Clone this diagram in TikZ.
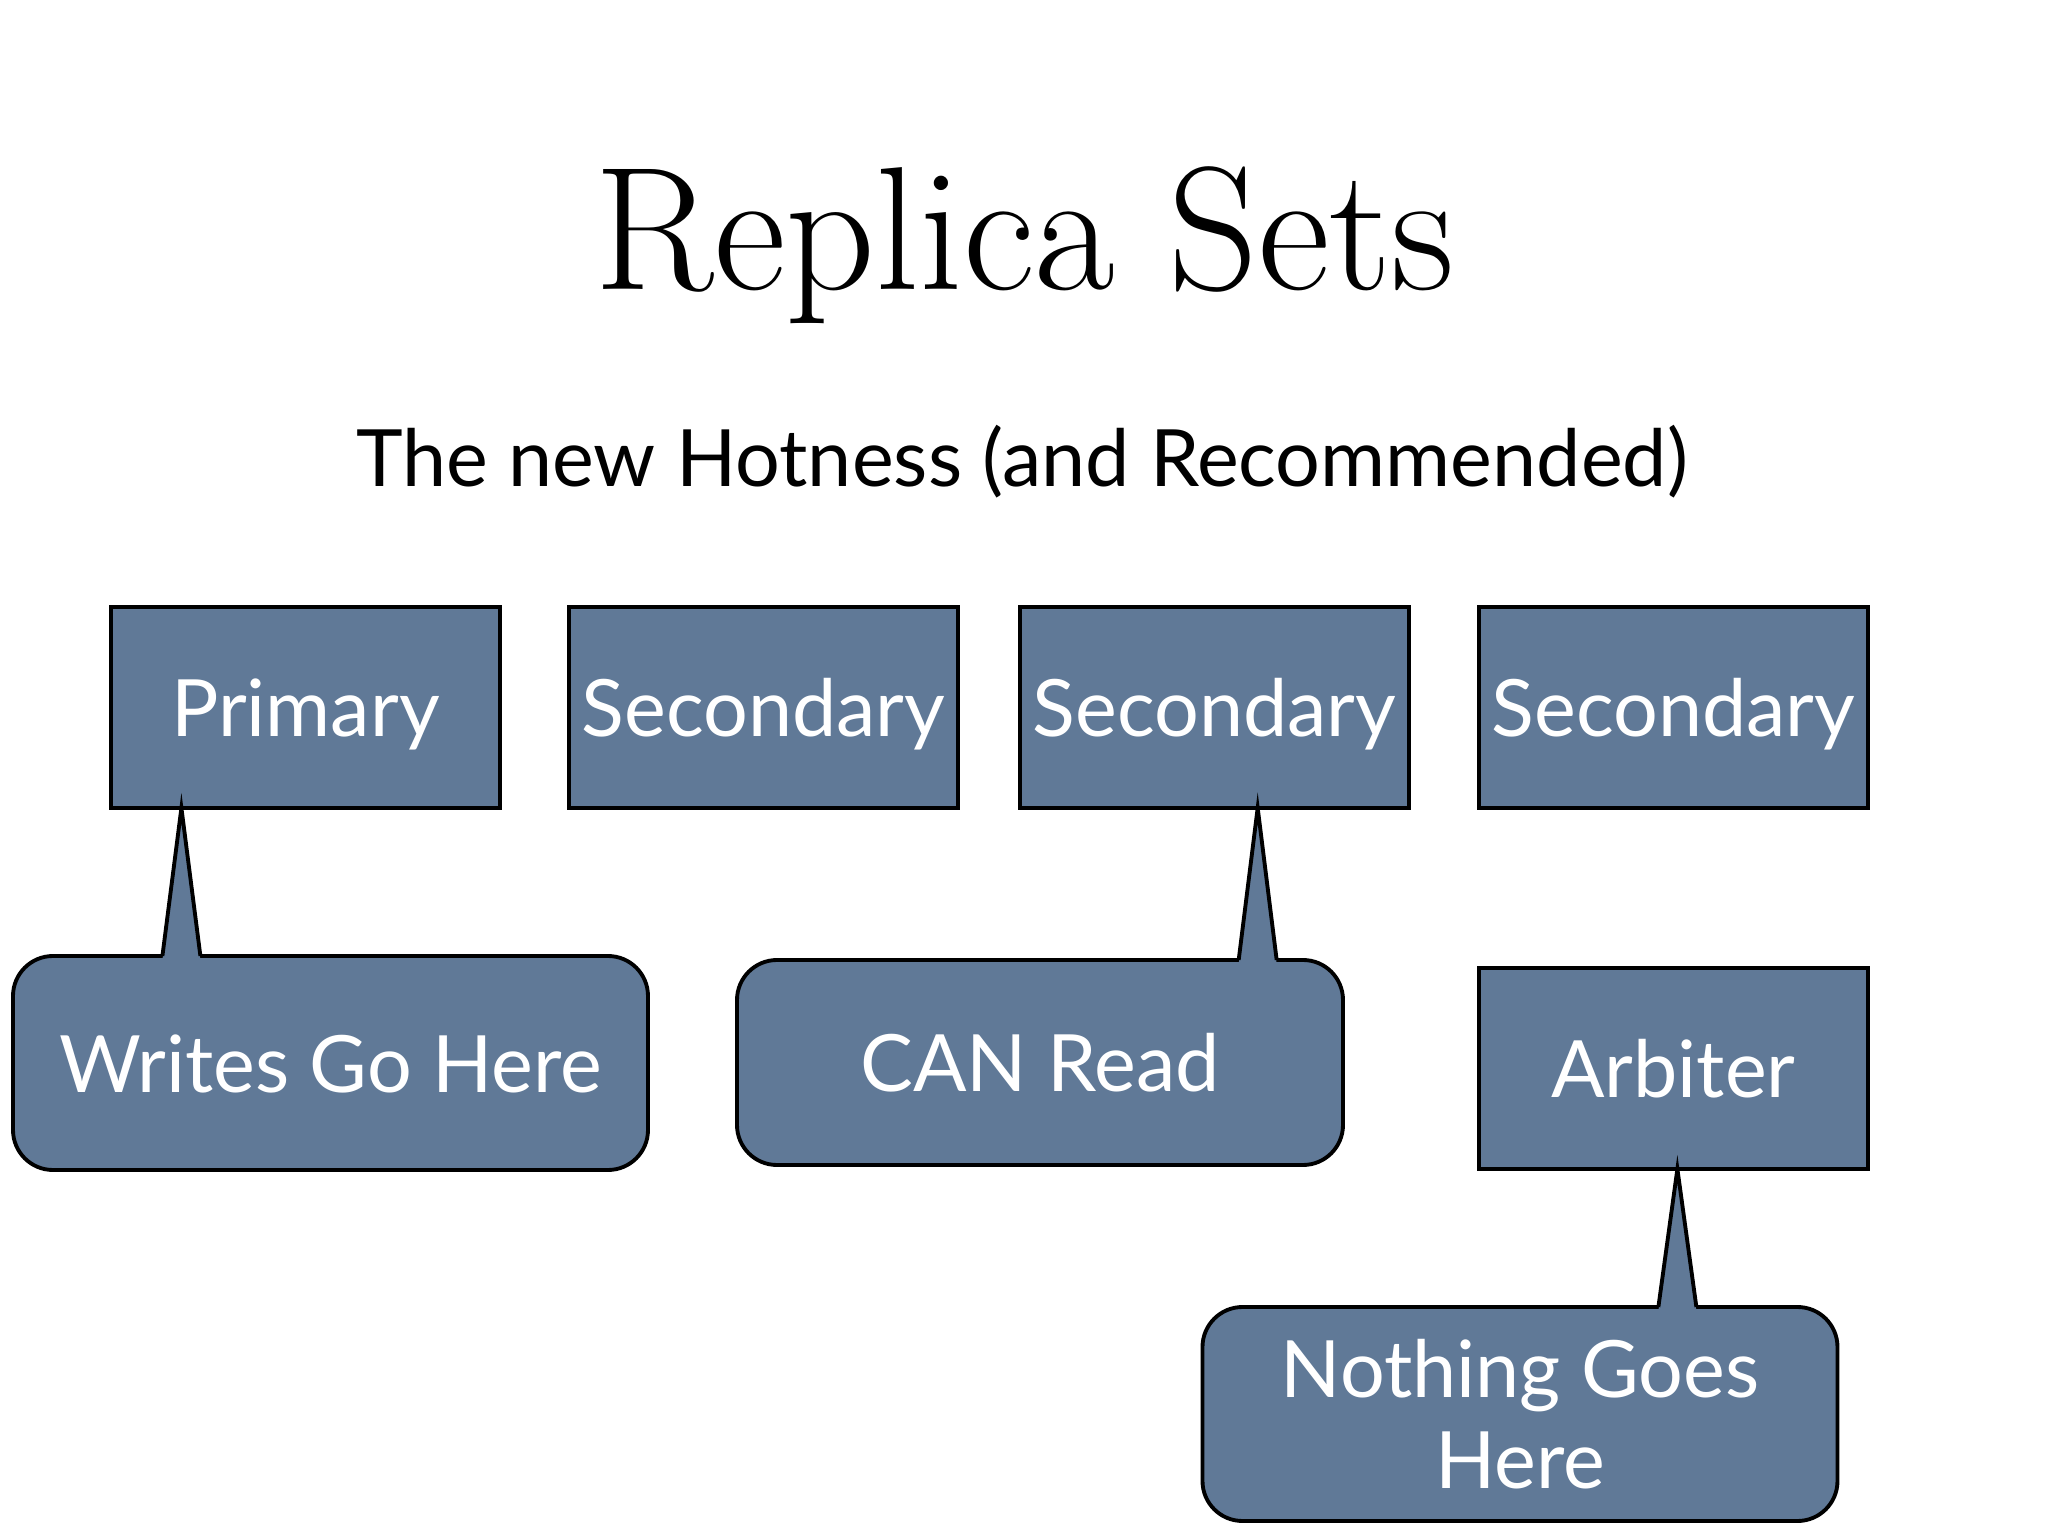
\documentclass[tikz,border=0pt]{standalone}
\usepackage{fontspec}
\newfontfamily\gill{Lato}
\usetikzlibrary{positioning,calc}
\definecolor{ardesia}{RGB}{96,121,151}

\tikzset{
  nodo/.style={draw,fill=ardesia,line width=1.1pt,outer sep=0pt,inner xsep=0pt,
    minimum width=3.89cm,minimum height=2.01cm,text=white,
    font=\gill\fontsize{22.5}{26}\selectfont,text height=0.58cm,text depth=0pt},
  nuvola/.style={nodo,rounded corners=0.4cm,minimum width=6.35cm,minimum height=2.14cm}
}

\begin{document}
\begin{tikzpicture}
  \useasboundingbox (0,0) rectangle (20.48,-15.36);
  % Titoli
  \node[anchor=base,font=\fontsize{50}{60}\selectfont] (titolo) at (10.25,-2.90) {Replica Sets};
  \node[anchor=base,font=\gill\fontsize{22.5}{26}\selectfont] (sottotitolo) at (10.22,-4.86) {The new Hotness (and Recommended)};

  % Nodi
  \node[nodo] (prim) at (3.055,-7.075) {Primary};
  \node[nodo,right=0.69cm of prim] (sec1) {Secondary};
  \node[nodo,right=0.62cm of sec1] (sec2) {Secondary};
  \node[nodo,right=0.70cm of sec2] (sec3) {Secondary};
  \node[nodo,below=1.60cm of sec3] (arb) {Arbiter};

  % Nuvolette
  \node[nuvola,below=1.48cm of prim,xshift=0.25cm] (scritture) {Writes Go Here};
  \node[nuvola,below=1.52cm of sec2,xshift=-1.745cm,minimum width=6.06cm,minimum height=2.05cm] (letture) {CAN Read};
  \node[nuvola,below=1.38cm of arb,xshift=-1.535cm,align=center,text height={},text depth={}] (niente) {Nothing Goes\\Here};

  % Punte
  \coordinate (pw) at ($(prim.south west)!0.181!(prim.south east)$);
  \coordinate (pl) at ($(sec2.south west)!0.611!(sec2.south east)$);
  \coordinate (pa) at ($(arb.south west)!0.51!(arb.south east)$);
  \foreach \p/\n in {pw/scritture, pl/letture, pa/niente} {
    \fill[ardesia] ($(\p |- \n.north)+(-0.19,-0.04)$) -- (\p) -- ($(\p |- \n.north)+(0.19,-0.04)$) -- cycle;
    \draw[line width=1.1pt,line join=miter] ($(\p |- \n.north)+(-0.19,0)$) -- (\p) -- ($(\p |- \n.north)+(0.19,0)$);
  }
\end{tikzpicture}
\end{document}
